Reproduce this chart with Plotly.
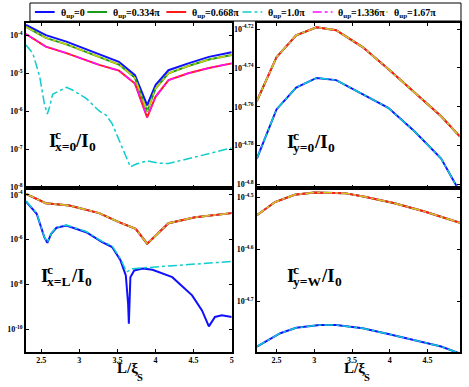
import plotly.graph_objects as go
from plotly.subplots import make_subplots

W, H = 469, 387
ML, MR, MT, MB = 23, 7, 23, 35
FONT = "Liberation Serif"

NAMES = [
    "θ<sub>up</sub>=0",
    "θ<sub>up</sub>=0.334π",
    "θ<sub>up</sub>=0.668π",
    "θ<sub>up</sub>=1.0π",
    "θ<sub>up</sub>=1.336π",
    "θ<sub>up</sub>=1.67π",
]
COLORS = ["#1010ff", "#1a9a1a", "#ff1a1a", "#10cccc", "#ff10ff", "#cccc10"]
DASHES = ["solid", "solid", "solid", "dashdot", "dashdot", "dashdot"]
WIDTHS = [2, 2, 2, 1.5, 1.5, 1.5]

# values below are log10 of the current ratio
# top-left: I^c_{x=0}/I_0
tl_x = [2.3, 2.56, 2.83, 3.22, 3.26, 3.52, 3.73, 3.89, 4.0, 4.17, 4.43, 4.7, 5.0]
tl_blue = [-3.73, -4.0, -4.17, -4.48, -4.50, -4.70, -5.05, -5.84, -5.31, -4.92, -4.74, -4.57, -4.45]
tl_green = [-3.78, -4.07, -4.24, -4.55, -4.57, -4.77, -5.12, -6.0, -5.40, -5.0, -4.81, -4.64, -4.52]
tl_red = [-3.97, -4.30, -4.47, -4.75, -4.78, -4.93, -5.27, -6.16, -5.62, -5.18, -5.0, -4.86, -4.74]
tl_cyan_x = [2.3, 2.39, 2.48, 2.54, 2.58, 2.61, 2.65, 2.83, 2.91, 3.09, 3.26, 3.35, 3.43,
             3.56, 3.67, 3.74, 3.89, 4.04, 4.17, 4.52, 5.0]
tl_cyan = [-4.26, -4.48, -5.09, -5.79, -6.07, -5.88, -5.55, -5.37, -5.44, -5.66, -5.99, -6.10, -6.32,
           -6.94, -7.46, -7.39, -7.30, -7.36, -7.37, -7.20, -6.96]

# bottom-left: I^c_{x=L}/I_0
bl_x = [2.3, 2.56, 2.87, 3.26, 3.52, 3.74, 3.89, 4.04, 4.17, 4.52, 5.0]
bl_rest = [-3.96, -4.38, -4.48, -4.82, -5.22, -5.52, -6.18, -5.67, -5.27, -5.00, -4.82]
bl_blue_x = [2.3, 2.44, 2.54, 2.58, 2.63, 2.70, 2.83, 3.09, 3.30, 3.43, 3.54, 3.61, 3.64, 3.65,
             3.67, 3.72, 3.83, 3.96, 4.22, 4.48, 4.61, 4.70, 4.78, 4.87, 5.0]
bl_blue = [-4.30, -4.85, -5.89, -6.14, -5.74, -5.47, -5.37, -5.67, -6.11, -6.33, -6.92, -7.59, -8.85, -9.74,
           -7.67, -7.37, -7.29, -7.34, -7.67, -8.48, -9.15, -9.86, -9.44, -9.37, -9.44]
bl_cyan_x = [2.3, 2.44, 2.54, 2.58, 2.63, 2.70, 2.83, 3.09, 3.30, 3.43, 3.54, 3.62, 3.70, 3.96, 4.39, 5.0]
bl_cyan = [-4.28, -4.83, -5.87, -6.12, -5.72, -5.45, -5.35, -5.64, -6.08, -6.28, -6.85, -7.44, -7.29,
           -7.22, -7.12, -6.97]

# top-right: I^c_{y=0}/I_0
tr_x = [2.24, 2.5, 2.76, 3.03, 3.29, 3.64, 3.98, 4.33, 4.68, 4.93]
tr_upper = [-4.7571, -4.7345, -4.7232, -4.7191, -4.7206, -4.7293, -4.7406, -4.7528, -4.7649, -4.7754]
tr_lower = [-4.7867, -4.7614, -4.7501, -4.7452, -4.7463, -4.7536, -4.7606, -4.7728, -4.7867, -4.8040]

# bottom-right: I^c_{y=W}/I_0
br_x = [2.24, 2.48, 2.74, 3.0, 3.4, 3.65, 4.05, 4.45, 4.93]
br_upper = [-4.5347, -4.5095, -4.4955, -4.4911, -4.4924, -4.4987, -4.5114, -4.5271, -4.5493]
br_low_x = [2.24, 2.55, 2.76, 3.07, 3.29, 3.64, 3.98, 4.33, 4.68, 4.93]
br_lower = [-4.7865, -4.761, -4.7505, -4.7454, -4.7454, -4.7516, -4.7624, -4.7738, -4.7865, -4.800]

# (x, log10 y) per theta, in legend order
panels = {
    (1, 1): [(tl_x, tl_blue), (tl_x, tl_green), (tl_x, tl_red),
             (tl_cyan_x, tl_cyan), (tl_x, tl_red), (tl_x, tl_green)],
    (2, 1): [(bl_blue_x, bl_blue), (bl_x, bl_rest), (bl_x, bl_rest),
             (bl_cyan_x, bl_cyan), (bl_x, bl_rest), (bl_x, bl_rest)],
    (1, 2): [(tr_x, tr_lower), (tr_x, tr_upper), (tr_x, tr_upper),
             (tr_x, tr_lower), (tr_x, tr_upper), (tr_x, tr_upper)],
    (2, 2): [(br_low_x, br_lower), (br_x, br_upper), (br_x, br_upper),
             (br_low_x, br_lower), (br_x, br_upper), (br_x, br_upper)],
}

left_x_ticks = [2.5, 3, 3.5, 4, 4.5, 5]
right_x_ticks = [2.5, 3, 3.5, 4, 4.5]
tl_y_ticks = [-4, -5, -6, -7, -8]
bl_y_ticks = [-4, -6, -8, -10]
tr_y_ticks = ["-4.72", "-4.74", "-4.76", "-4.78", "-4.8"]
br_y_ticks = ["-4.5", "-4.6", "-4.7"]

fig = make_subplots(rows=2, cols=2, horizontal_spacing=0.06, vertical_spacing=0)

for (row, col), series in panels.items():
    for i, (xs, ys) in enumerate(series):
        fig.add_trace(
            go.Scatter(
                x=xs,
                y=[10 ** v for v in ys],
                mode="lines",
                name=NAMES[i],
                showlegend=False,
                line=dict(color=COLORS[i], dash=DASHES[i], width=WIDTHS[i]),
            ),
            row=row,
            col=col,
        )

axis_common = dict(
    showline=True,
    linecolor="black",
    linewidth=1.5,
    mirror="ticks",
    ticks="inside",
    ticklen=3,
    tickcolor="black",
    showgrid=False,
    zeroline=False,
    tickfont=dict(family=FONT, size=8, color="black", weight="bold"),
)

def ytick(vals):
    return dict(
        tickvals=[10 ** float(v) for v in vals],
        ticktext=[f"10<sup>{v}</sup>" for v in vals],
    )

left_dom, right_dom = [0, 0.474], [0.532, 1]
fig.update_layout(
    xaxis=dict(axis_common, domain=left_dom, range=[2.3, 5], tickvals=left_x_ticks, showticklabels=False),
    xaxis2=dict(axis_common, domain=right_dom, range=[2.24, 4.93], tickvals=right_x_ticks, showticklabels=False),
    xaxis3=dict(axis_common, domain=left_dom, range=[2.3, 5], tickvals=left_x_ticks),
    xaxis4=dict(axis_common, domain=right_dom, range=[2.24, 4.93], tickvals=right_x_ticks),
    yaxis=dict(axis_common, domain=[0.5, 1], type="log", range=[-8, -3.68], **ytick(tl_y_ticks)),
    yaxis2=dict(axis_common, domain=[0.5, 1], type="log", range=[-4.8016, -4.7169], **ytick(tr_y_ticks)),
    yaxis3=dict(axis_common, domain=[0, 0.5], type="log", range=[-11, -3.68], **ytick(bl_y_ticks)),
    yaxis4=dict(axis_common, domain=[0, 0.5], type="log", range=[-4.797, -4.4816], **ytick(br_y_ticks)),
)

pw, ph = W - ML - MR, H - MT - MB

def to_paper(px, py):
    return (px - ML) / pw, (H - MB - py) / ph

# panel labels and x titles, placed in pixels: (text, left px, baseline px, font size)
label_parts = [
    ("I", 44, 147, 19), ("c", 50.5, 138.5, 13.5), ("x=0", 50, 151, 13.5), ("/I", 71, 147, 19), ("0", 85, 151, 13.5),
    ("I", 285, 148, 19), ("c", 291.5, 139.5, 13.5), ("y=0", 291, 152, 13.5), ("/I", 312, 148, 19), ("0", 326, 152, 13.5),
    ("I", 36, 282, 19), ("c", 42.5, 273.5, 13.5), ("x=L", 42, 286, 13.5), ("/I", 67, 282, 19), ("0", 81, 286, 13.5),
    ("I", 285, 282, 19), ("c", 291.5, 273.5, 13.5), ("y=W", 291, 286, 13.5), ("/I", 319, 282, 19), ("0", 334, 286, 13.5),
    ("L/ξ", 113, 373, 15), ("S", 133, 381, 10.5),
    ("L/ξ", 343, 373, 15), ("S", 363, 381, 10.5),
]
for text, px, base, size in label_parts:
    x, y = to_paper(px, base - 0.33 * size)
    fig.add_annotation(
        text=f"<b>{text}</b>", xref="paper", yref="paper", x=x, y=y,
        xanchor="left", yanchor="middle", showarrow=False,
        font=dict(family=FONT, size=size, color="black"),
    )

# legend drawn by hand so that it stays on one row like the original
leg_line_x = [32, 85, 165, 242, 313, 369]
leg_y = 12
x0, y0 = to_paper(27, 3)
x1, y1 = to_paper(463, 21)
fig.add_shape(type="rect", xref="paper", yref="paper", x0=x0, y0=y0, x1=x1, y1=y1,
              line=dict(color="black", width=1), fillcolor="white", layer="above")
for i, lx in enumerate(leg_line_x):
    a, b = to_paper(lx, leg_y)
    c, _ = to_paper(lx + 20, leg_y)
    fig.add_shape(type="line", xref="paper", yref="paper", x0=a, y0=b, x1=c, y1=b,
                  line=dict(color=COLORS[i], dash=DASHES[i], width=WIDTHS[i]), layer="above")
    tx, ty = to_paper(lx + 24, leg_y + 1)
    fig.add_annotation(
        text=f"<b>{NAMES[i]}</b>", xref="paper", yref="paper", x=tx, y=ty,
        xanchor="left", yanchor="middle", showarrow=False,
        font=dict(family=FONT, size=10, color="black"),
    )

fig.update_layout(
    width=W,
    height=H,
    margin=dict(l=ML, r=MR, t=MT, b=MB),
    paper_bgcolor="white",
    plot_bgcolor="white",
    font=dict(family=FONT, color="black"),
    showlegend=False,
)

# the page's default body margin would push the figure 8px in
fig.write_html(
    "out.html",
    config={"displayModeBar": False},
    post_script="document.body.style.margin = '0';",
)
